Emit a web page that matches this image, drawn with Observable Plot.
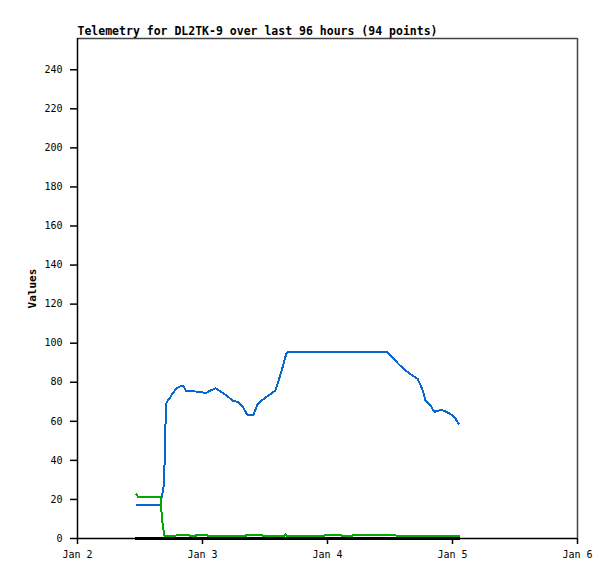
<!DOCTYPE html>
<html>
<head>
<meta charset="utf-8">
<script src="https://cdn.jsdelivr.net/npm/d3@7"></script>
<script src="https://cdn.jsdelivr.net/npm/@observablehq/plot@0.6"></script>
<style>
  body { margin: 0; background: #fff; }
</style>
</head>
<body>
<div id="chart"></div>
<script>
const title = "Telemetry for DL2TK-9 over last 96 hours (94 points)";
const yLabel = "Values";
const xDomain = ["2024-01-02T00:00Z", "2024-01-06T00:00Z"];
const xTickDates = ["2024-01-02T00:00Z", "2024-01-03T00:00Z", "2024-01-04T00:00Z", "2024-01-05T00:00Z", "2024-01-06T00:00Z"];
const yDomain = [0, 256];
const yTicks = [0, 20, 40, 60, 80, 100, 120, 140, 160, 180, 200, 220, 240];

const blueTimes = [
  "2024-01-02T11:20Z","2024-01-02T15:56Z","2024-01-02T16:08Z","2024-01-02T16:30Z","2024-01-02T16:42Z",
  "2024-01-02T16:54Z","2024-01-02T17:06Z","2024-01-02T17:40Z","2024-01-02T18:14Z","2024-01-02T19:00Z",
  "2024-01-02T19:36Z","2024-01-02T20:21Z","2024-01-02T20:54Z","2024-01-02T23:24Z","2024-01-03T00:36Z",
  "2024-01-03T01:30Z","2024-01-03T02:30Z","2024-01-03T03:30Z","2024-01-03T04:36Z","2024-01-03T05:48Z",
  "2024-01-03T06:54Z","2024-01-03T07:42Z","2024-01-03T08:36Z","2024-01-03T09:48Z","2024-01-03T10:36Z",
  "2024-01-03T11:30Z","2024-01-03T13:06Z","2024-01-03T14:00Z","2024-01-03T15:12Z","2024-01-03T16:06Z",
  "2024-01-03T16:18Z","2024-01-04T11:30Z","2024-01-04T12:30Z","2024-01-04T13:36Z","2024-01-04T15:00Z",
  "2024-01-04T16:18Z","2024-01-04T17:18Z","2024-01-04T17:54Z","2024-01-04T18:24Z","2024-01-04T18:48Z",
  "2024-01-04T19:48Z","2024-01-04T20:30Z","2024-01-04T21:18Z","2024-01-04T21:42Z","2024-01-04T22:48Z",
  "2024-01-04T23:48Z","2024-01-05T00:36Z","2024-01-05T01:12Z"
];
const blueValues = [
  17.2, 17.2, 21, 25.7, 37,
  59, 69.8, 71.6, 74.2, 76.8,
  77.8, 77.9, 75.4, 75.2, 74.4,
  75.7, 76.9, 75.2, 73.2, 70.6,
  69.8, 67.6, 63.3, 63.3, 68.9,
  71, 74, 75.7, 86, 94.8,
  95.3, 95.3, 92.7, 89.4, 86,
  83.4, 81.7, 78.3, 74.9, 70.6,
  68, 64.9, 65.3, 66, 64.9,
  63.4, 61.3, 58.7
];

const greenTimes = [
  "2024-01-02T11:20Z","2024-01-02T11:42Z","2024-01-02T15:56Z","2024-01-02T16:08Z","2024-01-02T16:18Z",
  "2024-01-02T16:42Z","2024-01-02T18:48Z","2024-01-02T19:00Z","2024-01-02T21:18Z","2024-01-02T21:42Z",
  "2024-01-02T22:42Z","2024-01-02T22:48Z","2024-01-03T00:48Z","2024-01-03T01:12Z","2024-01-03T08:18Z",
  "2024-01-03T08:24Z","2024-01-03T11:18Z","2024-01-03T11:42Z","2024-01-03T15:42Z","2024-01-03T15:54Z",
  "2024-01-03T16:18Z","2024-01-03T23:12Z","2024-01-03T23:36Z","2024-01-04T02:30Z","2024-01-04T02:54Z",
  "2024-01-04T04:36Z","2024-01-04T05:00Z","2024-01-04T12:54Z","2024-01-04T13:12Z","2024-01-04T15:54Z",
  "2024-01-04T16:18Z","2024-01-05T01:12Z"
];
const greenValues = [
  22.5, 21.2, 21.2, 13.6, 8.5,
  1.2, 1.2, 1.8, 1.8, 1.2,
  1.2, 1.8, 1.8, 1.2, 1.2,
  1.8, 1.8, 1.2, 1.2, 2.2,
  1.2, 1.2, 1.8, 1.8, 1.2,
  1.2, 1.8, 1.8, 1.5, 1.5,
  1.2, 1.2
];

const blackTimes = ["2024-01-02T11:20Z", "2024-01-05T01:12Z"];
const blackValues = [0, 0];

const toRows = (times, values) => times.map((t, i) => ({t: new Date(t), v: values[i]}));
const blue = toRows(blueTimes, blueValues);
const green = toRows(greenTimes, greenValues);
const black = toRows(blackTimes, blackValues);

const x0 = new Date(xDomain[0]), x1 = new Date(xDomain[1]);

const chart = Plot.plot({
  width: 615,
  height: 579,
  marginTop: 38,
  marginBottom: 41,
  marginLeft: 77,
  marginRight: 38,
  style: {fontFamily: "'DejaVu Sans Mono', monospace", fontSize: "10px", background: "#fff", color: "#000"},
  x: {type: "utc", domain: [x0, x1]},
  y: {domain: yDomain},
  marks: [
    Plot.axisY({ticks: yTicks, tickSize: 7, tickPadding: 8, label: null, tickFormat: d => String(d), strokeWidth: 1.5}),
    Plot.axisX({ticks: xTickDates.map(d => new Date(d)), tickSize: 6, tickPadding: 6, label: null,
                tickFormat: d3.utcFormat("%b %-d"), strokeWidth: 1.5}),
    Plot.ruleY([yDomain[1]], {stroke: "#444", strokeWidth: 1.5}),
    Plot.ruleX([x1], {stroke: "#444", strokeWidth: 1.5}),
    Plot.ruleX([x0], {stroke: "#000", strokeWidth: 1.5}),
    Plot.ruleY([0], {stroke: "#000", strokeWidth: 1.5}),
    Plot.line(blue, {x: "t", y: "v", stroke: "#0a66cc", strokeWidth: 2, shapeRendering: "crispEdges"}),
    Plot.line(green, {x: "t", y: "v", stroke: "#00aa00", strokeWidth: 2, shapeRendering: "crispEdges"}),
    Plot.line(black, {x: "t", y: "v", stroke: "#000", strokeWidth: 3, shapeRendering: "crispEdges"}),
    Plot.text([title], {text: d => d, frameAnchor: "top-left", dy: -4, textAnchor: "start", lineAnchor: "bottom",
                        fontWeight: "bold", fontSize: 11.5}),
    Plot.text([yLabel], {text: d => d, frameAnchor: "left", dx: -45, rotate: -90, textAnchor: "middle",
                         fontWeight: "bold", fontSize: 11})
  ]
});
document.getElementById("chart").appendChild(chart);
</script>
</body>
</html>
